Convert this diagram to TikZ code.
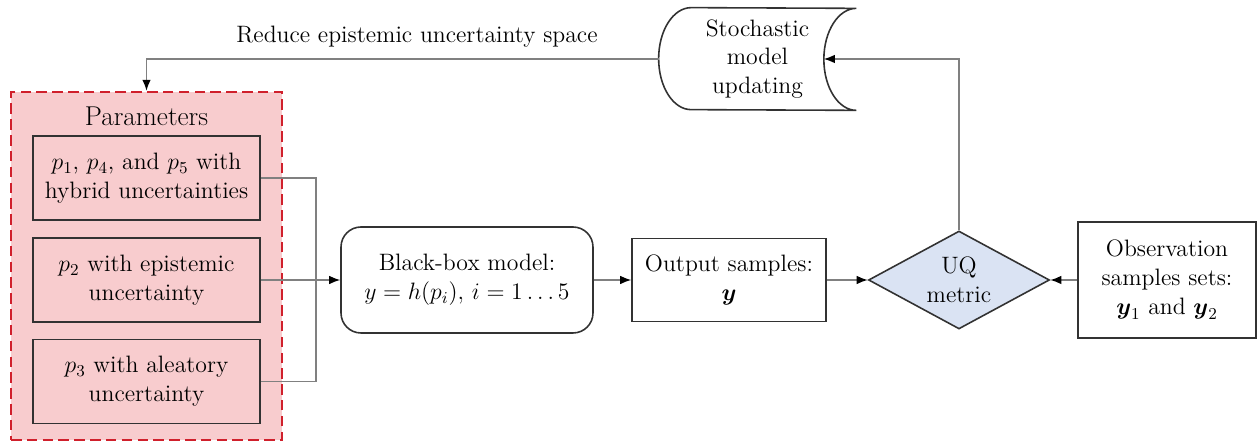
\documentclass[tikz,border=0pt]{standalone}
\usepackage{fix-cm}
\usepackage{amsmath}
\usepackage{amssymb}
\usepackage{fontspec}
\usepackage{xcolor}
\usepackage{tikz}
\usetikzlibrary{shapes.geometric,arrows.meta,positioning,calc}
\definecolor{parPink}{RGB}{248,204,206}
\definecolor{parRed}{RGB}{208,32,44}
\definecolor{uqBlue}{RGB}{218,227,243}
\definecolor{lineGray}{RGB}{128,128,128}
\definecolor{boxGray}{RGB}{50,50,50}

\tikzset{
  txt/.style={font=\fontsize{13.5}{16.3}\selectfont, align=center},
  parbox/.style={txt, draw=boxGray, line width=0.9pt, fill=parPink, minimum width=4.54cm, minimum height=1.68cm, inner sep=2pt},
  flowbox/.style={txt, draw=boxGray, line width=0.9pt, fill=white, inner sep=2pt},
  conn/.style={draw=lineGray, line width=0.7pt},
  arr/.style={conn, -{Latex[length=2.2mm, width=1.7mm, color=black]}}
}

\begin{document}
\begin{tikzpicture}
\useasboundingbox (0,0) rectangle (25.16,8.84);

% ===== Parameters group =====
\node[draw=parRed, dash pattern=on 6pt off 3pt, line width=1.4pt, fill=parPink, minimum width=5.42cm, minimum height=6.96cm, inner sep=0pt] (params) at (2.93,3.52) {};
\node[txt, font=\fontsize{15.5}{18}\selectfont] (partitle) at (2.93,6.52) {Parameters};

\node[parbox] (p145) at (2.93,5.28) {$p_1$, $p_4$, and $p_5$ with\\hybrid uncertainties};
\node[parbox] (p2) at (2.93,3.24) {$p_2$ with epistemic\\uncertainty};
\node[parbox] (p3) at (2.93,1.21) {$p_3$ with aleatory\\uncertainty};

% junction of the three parameter lines
\coordinate (jn) at (6.32,3.24);

% ===== Model chain =====
\node[flowbox, rounded corners=0.4cm, minimum width=5.04cm, minimum height=2.12cm] (bbox) at (9.34,3.24) {Black-box model:\\$y = h(p_i),\, i = 1 \ldots 5$};
\node[flowbox, minimum width=3.88cm, minimum height=1.66cm] (out) at (14.58,3.24) {Output samples:\\$\boldsymbol{y}$};
\node[txt, diamond, aspect=1.85, draw=boxGray, line width=0.9pt, fill=uqBlue, minimum width=3.62cm, minimum height=1.96cm, inner sep=0pt] (uq) at (19.18,3.24) {UQ\\metric};
\node[flowbox, minimum width=3.56cm, minimum height=2.32cm] (obs) at (23.34,3.24) {Observation\\samples sets:\\$\boldsymbol{y}_1$ and $\boldsymbol{y}_2$};

% ===== Updating loop =====
\node[txt, minimum width=3.94cm, minimum height=2.04cm, inner sep=0pt] (upd) at (15.15,7.66) {Stochastic\\model\\updating};
\draw[draw=boxGray, line width=0.9pt] ([xshift=0.65cm]upd.north west) arc[start angle=90, end angle=270, x radius=0.65cm, y radius=1.02cm] -- (upd.south east) arc[start angle=270, end angle=90, x radius=0.65cm, y radius=1.02cm] -- cycle;
\coordinate (updin) at ([xshift=-0.65cm]upd.east);

\node[txt] (fbtext) at (8.34,8.1) {Reduce epistemic uncertainty space};

% ===== Connectors =====
\draw[conn] (p145.east) -| (jn) |- (p3.east);
\draw[arr] (p2.east) -- (bbox.west);
\draw[arr] (bbox.east) -- (out.west);
\draw[arr] (out.east) -- (uq.west);
\draw[arr] (obs.west) -- (uq.east);
\draw[arr] (uq.north) |- (updin);
\draw[arr] (upd.west) -| (params.north);

\end{tikzpicture}
\end{document}
